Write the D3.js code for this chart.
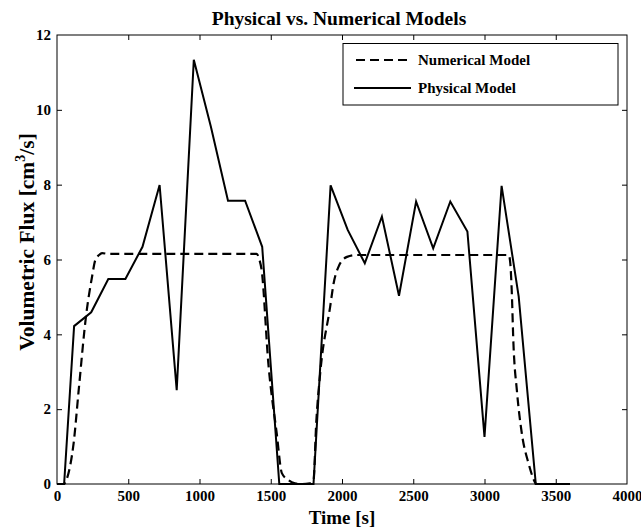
<!DOCTYPE html>
<html>
<head>
<meta charset="utf-8">
<script src="https://cdn.jsdelivr.net/npm/d3@7"></script>
<style>
  html, body { margin: 0; padding: 0; background: #fff; }
  svg { display: block; }
  text { font-family: "Liberation Serif", "Times New Roman", serif; font-weight: bold; fill: #000; }
</style>
</head>
<body>
<svg id="chart" width="641" height="530"></svg>
<script>
// Physical model: measured volumetric flux (cm^3/s) against time (s)
const physicalTime = [0, 50, 120, 240, 360, 480, 600, 720, 840, 960, 1080, 1200, 1320, 1440, 1560, 1680, 1800,
  1920, 2040, 2160, 2280, 2400, 2520, 2640, 2760, 2880, 3000, 3120, 3240, 3360, 3480, 3600];
const physicalFlux = [0, 0, 4.22, 4.59, 5.48, 5.48, 6.34, 7.99, 2.51, 11.34, 9.55, 7.57, 7.57, 6.34, 0, 0, 0,
  7.98, 6.79, 5.90, 7.15, 5.03, 7.55, 6.30, 7.55, 6.75, 1.26, 7.97, 5.01, 0, 0, 0];

// Numerical model: simulated volumetric flux (cm^3/s) against time (s)
const numericalTime = [0, 46, 70, 93, 117, 152, 206, 246, 269, 295, 316, 360, 800, 1200, 1401, 1420, 1436, 1483,
  1542, 1578, 1625, 1670, 1720, 1775, 1800, 1819, 1847, 1917, 1941, 1976, 2035, 2100, 2600, 3000, 3170, 3181,
  3191, 3203, 3227, 3262, 3309, 3345, 3360];
const numericalFlux = [0, 0, 0.15, 0.5, 1.1, 2.5, 4.56, 5.54, 5.99, 6.12, 6.17, 6.15, 6.15, 6.15, 6.15, 6.0, 5.72, 3.23,
  1.35, 0.29, 0.1, 0.02, 0, 0.02, 0.1, 1.62, 2.96, 4.74, 5.36, 5.81, 6.07, 6.12, 6.12, 6.12, 6.12, 5.9,
  5.18, 3.76, 2.51, 1.35, 0.55, 0.12, 0];

const xTicks = [0, 500, 1000, 1500, 2000, 2500, 3000, 3500, 4000];
const yTicks = [0, 2, 4, 6, 8, 10, 12];

const titleText = "Physical vs. Numerical Models";
const xLabel = "Time [s]";
const legendLabels = ["Numerical Model", "Physical Model"];

const svg = d3.select("#chart");
const plot = { left: 57, right: 627, top: 35, bottom: 484 };

const x = d3.scaleLinear().domain([0, 4000]).range([plot.left, plot.right]);
const y = d3.scaleLinear().domain([0, 12]).range([plot.bottom, plot.top]);

// Frame
svg.append("rect")
  .attr("x", plot.left).attr("y", plot.top)
  .attr("width", plot.right - plot.left).attr("height", plot.bottom - plot.top)
  .attr("fill", "none").attr("stroke", "#000").attr("stroke-width", 1);

// Axes with inward ticks on all four sides
const tickLen = 5;
const gx = svg.append("g").attr("transform", `translate(0,${plot.bottom})`)
  .call(d3.axisBottom(x).tickValues(xTicks).tickFormat(d3.format("d")).tickSizeInner(-tickLen).tickSizeOuter(0).tickPadding(6.5));
const gxTop = svg.append("g").attr("transform", `translate(0,${plot.top})`)
  .call(d3.axisTop(x).tickValues(xTicks).tickFormat("").tickSizeInner(-tickLen).tickSizeOuter(0));
const gy = svg.append("g").attr("transform", `translate(${plot.left},0)`)
  .call(d3.axisLeft(y).tickValues(yTicks).tickFormat(d3.format("d")).tickSizeInner(-tickLen).tickSizeOuter(0).tickPadding(6));
const gyRight = svg.append("g").attr("transform", `translate(${plot.right},0)`)
  .call(d3.axisRight(y).tickValues(yTicks).tickFormat("").tickSizeInner(-tickLen).tickSizeOuter(0));

[gx, gxTop, gy, gyRight].forEach(g => {
  g.select(".domain").remove();
  g.selectAll(".tick line").attr("stroke", "#000").attr("stroke-width", 1);
  g.selectAll(".tick text").style("font-size", "15px").style("font-family", "'Liberation Serif', serif")
    .style("font-weight", "bold").attr("fill", "#000");
});
// Drop the end ticks that would sit on the frame itself
[gx, gxTop].forEach(g => g.selectAll(".tick line").filter(d => d === 0 || d === 4000).remove());
[gy, gyRight].forEach(g => g.selectAll(".tick line").filter(d => d === 0 || d === 12).remove());

// Series
const numericalData = numericalTime.map((t, i) => [t, numericalFlux[i]]);
const physicalData = physicalTime.map((t, i) => [t, physicalFlux[i]]);

const smoothLine = d3.line().x(d => x(d[0])).y(d => y(d[1])).curve(d3.curveMonotoneX);
const straightLine = d3.line().x(d => x(d[0])).y(d => y(d[1]));

svg.append("path").datum(numericalData)
  .attr("d", smoothLine)
  .attr("fill", "none").attr("stroke", "#000").attr("stroke-width", 2.2)
  .attr("stroke-dasharray", "9,5");

svg.append("path").datum(physicalData)
  .attr("d", straightLine)
  .attr("fill", "none").attr("stroke", "#000").attr("stroke-width", 2)
  .attr("stroke-linejoin", "miter");

// Legend
const legend = svg.append("g");
legend.append("rect")
  .attr("x", 343).attr("y", 43.5).attr("width", 275).attr("height", 61.5)
  .attr("fill", "#fff").attr("stroke", "#000").attr("stroke-width", 1);
legend.append("line")
  .attr("x1", 356).attr("x2", 411).attr("y1", 60).attr("y2", 60)
  .attr("stroke", "#000").attr("stroke-width", 2.2).attr("stroke-dasharray", "9,5");
legend.append("line")
  .attr("x1", 354).attr("x2", 411).attr("y1", 88).attr("y2", 88)
  .attr("stroke", "#000").attr("stroke-width", 2);
legend.selectAll("text.lg").data(legendLabels).enter().append("text")
  .attr("class", "lg")
  .attr("x", 418).attr("y", (d, i) => 65 + i * 28)
  .style("font-size", "15px")
  .text(d => d);

// Title and axis labels
svg.append("text")
  .attr("x", (plot.left + plot.right) / 2 - 3).attr("y", 25)
  .attr("text-anchor", "middle").style("font-size", "19.5px")
  .text(titleText);

svg.append("text")
  .attr("x", (plot.left + plot.right) / 2).attr("y", 524)
  .attr("text-anchor", "middle").style("font-size", "19px")
  .text(xLabel);

const yl = svg.append("text")
  .attr("transform", `translate(34,242) rotate(-90)`)
  .attr("text-anchor", "middle").style("font-size", "21.5px");
yl.append("tspan").text("Volumetric Flux [cm");
yl.append("tspan").attr("dy", -9).style("font-size", "14px").text("3");
yl.append("tspan").attr("dy", 9).text("/s]");
</script>
</body>
</html>
